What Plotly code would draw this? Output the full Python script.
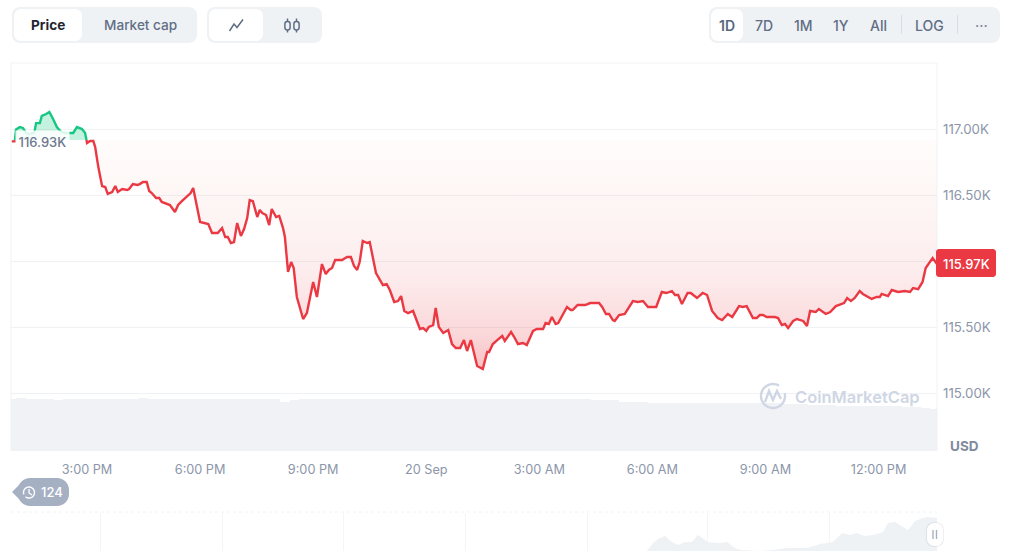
import math
import numpy as np
import plotly.graph_objects as go

W, H = 1024, 551
BASE = 116.92

minutes = [
 60,65,67,73,78,83,89,96,99,105,108,115,120,126,132,139,145,151,158,164,172,177,180,185,190,
 193,198,204,209,213,220,225,229,236,244,247,253,260,264,269,275,279,283,290,295,299,312,320,325,331,339,345,349,
 360,373,379,388,395,400,404,409,414,419,425,430,435,439,444,451,455,459,465,470,474,481,486,492,495,
 500,505,509,514,524,530,540,546,554,560,565,570,575,586,594,600,605,610,614,619,626,630,
 640,643,651,657,662,669,675,680,685,691,699,710,715,720,724,731,735,740,747,755,761,767,774,780,785,791,801,810,817,820,826,833,841,845,855,860,866,874,880,
 890,896,906,910,915,920,926,930,944,950,953,961,973,981,995,1000,1006,1011,1017,1020,1027,1036,1049,1057,1065,1073,
 1086,1095,1102,1111,1116,1121,1127,1136,1141,1151,1160,1167,1175,1184,1191,1200,1207,1218,1224,1230,1240,1246,1251,1256,1262,1275,1280,1286,1291,1296,
 1304,1310,1320,1326,1331,1340,1345,1356,1363,1372,1385,1390,1396,1402,1410,1415,1429,1437,1442,1445,1455,1461,1471,1482,1490,1495,1503,1510,1515,1526,1533,
]
price_k = [
 116.91,116.91,117.0,117.019,117.012,116.974,116.966,116.974,117.049,117.049,117.103,117.118,117.133,117.08,117.019,116.981,116.974,116.974,116.974,117.019,117.004,116.974,116.898,116.913,116.913,
 116.867,116.715,116.571,116.564,116.511,116.526,116.571,116.526,116.548,116.541,116.548,116.586,116.579,116.586,116.602,116.602,116.533,116.518,116.48,116.48,116.45,116.427,116.374,116.427,116.457,116.488,116.518,116.556,
 116.298,116.283,116.215,116.215,116.252,116.184,116.184,116.139,116.146,116.29,116.192,116.245,116.328,116.465,116.457,116.336,116.389,116.366,116.351,116.275,116.397,116.336,116.344,116.252,116.184,
 115.919,115.994,115.949,115.729,115.562,115.607,115.843,115.729,115.979,115.903,115.934,115.949,116.01,116.01,116.032,116.032,115.964,115.934,115.994,116.154,116.139,116.146,
 115.911,115.888,115.82,115.827,115.782,115.691,115.698,115.736,115.623,115.607,115.623,115.486,115.493,115.471,115.501,115.516,115.645,115.501,115.456,115.478,115.372,115.342,115.342,115.402,115.319,115.402,115.205,115.182,115.311,115.311,115.372,115.402,115.433,115.395,115.463,115.425,115.372,115.38,115.364,
 115.471,115.486,115.486,115.531,115.524,115.577,115.524,115.531,115.653,115.63,115.63,115.668,115.668,115.683,115.683,115.653,115.6,115.6,115.554,115.547,115.592,115.6,115.698,115.691,115.698,115.653,
 115.653,115.767,115.759,115.774,115.744,115.744,115.676,115.759,115.759,115.721,115.759,115.744,115.623,115.569,115.554,115.6,115.577,115.66,115.653,115.66,115.569,115.569,115.592,115.592,115.577,115.577,115.569,115.516,115.524,115.493,
 115.547,115.562,115.547,115.509,115.623,115.615,115.638,115.6,115.615,115.66,115.683,115.721,115.698,115.721,115.774,115.752,115.714,115.729,115.729,115.752,115.736,115.782,115.767,115.774,115.767,115.797,115.789,115.843,115.949,116.025,115.979,
]
assert len(minutes) == len(price_k), (len(minutes), len(price_k))

volume_minutes = [60 + 15 * i for i in range(99)]
volume_b = [
 49.8,49.9,49.6,49.8,49.7,48.7,49.3,49.4,49.2,49.5,
 49.7,49.8,49.8,49.6,49.9,49.7,49.8,49.6,49.7,49.8,
 49.6,49.5,49.4,49.6,49.7,49.8,49.6,49.5,49.4,46.8,
 48.0,49.0,49.4,49.5,49.7,49.6,49.4,49.5,49.3,49.5,
 49.6,49.8,49.5,49.3,49.5,49.6,49.4,49.3,49.5,49.4,
 49.2,49.3,49.4,49.2,49.3,49.1,49.3,49.2,49.0,49.3,
 49.4,49.1,48.9,48.6,48.0,47.0,46.6,46.2,46.0,45.8,
 46.0,45.8,45.7,45.8,45.6,45.5,45.7,45.6,45.4,45.5,
 45.3,45.2,44.9,44.6,44.3,44.0,43.6,43.3,43.0,42.9,
 42.8,42.7,42.6,42.5,42.3,42.0,41.6,40.9,39.5,
]
mini_minutes = [1071,1081,1089,1100,1111,1121,1132,1143,1152,1160,1168,1187,1199,1211,1222,1251,1272,1294,1326,1347,1367,1382,1394,1405,1418,1431,1447,1455,1466,1479,1487,1498,1510,1518,1530,1533]
mini_level = [0,8,12,15,9,6,9,9,16,13,9,8,9,3,1,0,1,3,3,7,9,18,16,18,15,16,19,28,29,24,21,30,33,34,33,33]
mini_grid = [201,395,589,782,976,1168,1362]

x_ticks = [180,360,540,720,900,1080,1260,1440]
x_labels = ["3:00 PM","6:00 PM","9:00 PM","20 Sep","3:00 AM","6:00 AM","9:00 AM","12:00 PM"]
y_ticks = [115.0,115.5,116.0,116.5,117.0]
y_labels = ["115.00K","115.50K","","116.50K","117.00K"]  # 116.00K sits behind the current-price badge

# insert crossings so the two colours meet on the baseline
tx, ty = [], []
for i, (a, b) in enumerate(zip(minutes, price_k)):
    if i and (price_k[i-1] - BASE) * (b - BASE) < 0:
        f = (BASE - price_k[i-1]) / (b - price_k[i-1])
        tx.append(minutes[i-1] + f * (a - minutes[i-1])); ty.append(BASE)
    tx.append(a); ty.append(b)
tx, ty = np.array(tx), np.array(ty)
above = np.where(ty >= BASE, ty, np.nan)
below = np.where(ty <= BASE, ty, np.nan)

RED, GREEN = "#ea3943", "#16c784"
GRID = "#eff2f5"
fig = go.Figure()

fig.add_bar(x=volume_minutes, y=volume_b, yaxis="y2", marker=dict(color="#f0f2f5", line=dict(width=0)), hoverinfo="skip")

fig.add_scatter(x=tx, y=np.full(tx.shape, BASE), mode="lines", line=dict(width=0), hoverinfo="skip")
fig.add_scatter(x=tx, y=np.minimum(ty, BASE), mode="lines", line=dict(width=0), fill="tonexty", hoverinfo="skip",
                fillgradient=dict(type="vertical", start=BASE, stop=115.18,
                                  colorscale=[[0,"rgba(240,150,110,0.03)"],[0.3,"rgba(234,90,80,0.06)"],[0.6,"rgba(234,57,67,0.10)"],[0.85,"rgba(234,57,67,0.20)"],[1,"rgba(234,57,67,0.32)"]]))
fig.add_scatter(x=tx, y=np.full(tx.shape, BASE), mode="lines", line=dict(width=0), hoverinfo="skip")
fig.add_scatter(x=tx, y=np.maximum(ty, BASE), mode="lines", line=dict(width=0), fill="tonexty",
                fillcolor="rgba(22,199,132,0.25)", hoverinfo="skip")
fig.add_scatter(x=tx, y=below, mode="lines", line=dict(color=RED, width=2.4), hoverinfo="skip")
fig.add_scatter(x=tx, y=above, mode="lines", line=dict(color=GREEN, width=2.4), hoverinfo="skip")

fig.add_scatter(x=mini_minutes, y=mini_level, xaxis="x2", yaxis="y3", mode="lines", line=dict(width=0),
                fill="tozeroy", fillcolor="#eff2f5", hoverinfo="skip")

def px(x): return x / W
def py(y): return 1 - y / H
def P(pts, close=False):
    s = "M" + " L".join(f"{px(x):.5f},{py(y):.5f}" for x, y in pts)
    return s + (" Z" if close else "")
def rr(x0, y0, x1, y1, r):
    k = r * 0.45
    def c(a, b, d): return f"C{px(a[0]):.5f},{py(a[1]):.5f} {px(b[0]):.5f},{py(b[1]):.5f} {px(d[0]):.5f},{py(d[1]):.5f}"
    def L(a): return f"L{px(a[0]):.5f},{py(a[1]):.5f}"
    return (f"M{px(x0+r):.5f},{py(y0):.5f} " + L((x1-r,y0)) + " " + c((x1-k,y0),(x1,y0+k),(x1,y0+r)) + " " + L((x1,y1-r)) + " " +
            c((x1,y1-k),(x1-k,y1),(x1-r,y1)) + " " + L((x0+r,y1)) + " " + c((x0+k,y1),(x0,y1-k),(x0,y1-r)) + " " + L((x0,y0+r)) + " " +
            c((x0,y0+k),(x0+k,y0),(x0+r,y0)) + " Z")

shapes = []
def fillpath(path, color, line=None, lw=0):
    shapes.append(dict(type="path", xref="paper", yref="paper", path=path, fillcolor=color,
                       line=dict(color=line or "rgba(0,0,0,0)", width=lw), layer="above"))
def stroke(pts, color, lw=1.5):
    shapes.append(dict(type="path", xref="paper", yref="paper", path=P(pts), line=dict(color=color, width=lw), layer="above"))
def circle_pts(cx, cy, r, a0=0, a1=360, n=40):
    return [(cx + r*math.cos(math.radians(a0+(a1-a0)*i/n)), cy + r*math.sin(math.radians(a0+(a1-a0)*i/n))) for i in range(n+1)]

# plot frame
stroke([(11,451),(11,63),(937,63),(937,451)], "#eff2f5", 1)
shapes.append(dict(type="line", xref="paper", yref="paper", x0=px(11), x1=px(937), y0=py(512), y1=py(512),
                   line=dict(color="#eff2f5", width=1, dash="dot"), layer="above"))
# button groups
BG = "#eff2f5"
fillpath(rr(12,7,197,43,8), BG)
fillpath(rr(14,9,82,41,7), "#ffffff")
fillpath(rr(207,7,322,43,8), BG)
fillpath(rr(209,9,263,41,7), "#ffffff")
fillpath(rr(709,7,1000,43,8), BG)
fillpath(rr(711,9,743,41,7), "#ffffff")
for xx in (901.5, 957.5):
    stroke([(xx,15),(xx,34)], "#d8dee8", 1)
# line & candle icons
stroke([(229.5,31),(234,24),(237,27.5),(243,19.5)], "#616e85", 1.5)
for cx, cy in ((287.5,25.5),(296.5,25.5)):
    fillpath(rr(cx-2.6,cy-4,cx+2.6,cy+4.5,2.4), "rgba(0,0,0,0)", "#616e85", 1.5)
    stroke([(cx,cy-7),(cx,cy-4)], "#616e85", 1.5)
    stroke([(cx,cy+4.5),(cx,cy+7)], "#616e85", 1.5)
# current price badge
fillpath(rr(936,249,996,277,3), RED)
# history badge
fillpath(rr(18,478,69,506,12), "#a6b0c3")
fillpath(P([(12,492),(20,484),(20,500)], True), "#a6b0c3")
stroke(circle_pts(29,492.5,5.5,-200,130), "#ffffff", 1.4)
stroke([(29,489),(29,493),(32,495)], "#ffffff", 1.3)
# slider handle
fillpath(rr(926,522,944,547,8), "rgba(88,102,126,0.10)")
fillpath(rr(927,523,943,546,7.5), "#ffffff")
stroke([(933,530),(933,539)], "#a6b0c3", 1.4)
stroke([(936.5,530),(936.5,539)], "#a6b0c3", 1.4)
# watermark logo
LOGO = "#cfd6e4"
stroke(circle_pts(773,396,12,-15,300), LOGO, 2.4)
stroke([(765,402),(769,391),(773,400),(777,391),(781,399)], LOGO, 2.4)

def note(x, y, text, size=13, color="#616e85", anchor="center", weight=500, **kw):
    return dict(xref="paper", yref="paper", x=px(x), y=py(y), text=text, showarrow=False, xanchor=anchor, yanchor="middle",
                font=dict(family="Inter", size=size, color=color, weight=weight), **kw)

annotations = [
    note(48,25,"Price",13.6,"#222531",weight=700),
    note(140,25,"Market cap",13.6,"#616e85",weight=500),
    note(727,25,"1D",14,"#58667e",weight=600),
    note(764,25,"7D",14,"#616e85"),
    note(803,25,"1M",14,"#616e85"),
    note(841,25,"1Y",14,"#616e85"),
    note(878,25,"All",14,"#616e85"),
    note(929,25,"LOG",14,"#616e85"),
    note(981,25,"···",14,"#808a9d"),
    note(966,263.5,"115.97K",13,"#ffffff"),
    note(14.5,141,"116.93K",13,"#6b778c",anchor="left",bgcolor="rgba(255,255,255,0.85)",borderpad=2.5),
    note(964,446,"USD",13.5,"#808a9d",weight=700),
    note(51.5,492.5,"124",13,"#ffffff"),
    note(857,397,"CoinMarketCap",16.5,LOGO,weight=600),
]

fig.update_layout(
    width=W, height=H, margin=dict(l=0,r=0,t=0,b=0), paper_bgcolor="#ffffff", plot_bgcolor="#ffffff",
    showlegend=False, bargap=0, shapes=shapes, annotations=annotations,
    font=dict(family="Inter"),
    xaxis=dict(domain=[px(11),px(937)], range=[59,1533], anchor="y", tickmode="array", tickvals=x_ticks, ticktext=x_labels,
               showgrid=False, zeroline=False, showline=False, ticks="", ticklabelstandoff=9,
               tickfont=dict(family="Inter", size=12.7, color="#8c96aa")),
    yaxis=dict(domain=[py(451),py(63)], range=[114.56,117.505], side="right", anchor="x", tickmode="array", tickvals=y_ticks, ticktext=y_labels,
               showgrid=True, gridcolor=GRID, gridwidth=1, zeroline=False, showline=False, ticks="", ticklabelstandoff=5,
               tickfont=dict(family="Inter", size=13.3, color="#8c96aa")),
    yaxis2=dict(domain=[py(451),py(63)], range=[0,368.6], overlaying="y", anchor="x", visible=False),
    xaxis2=dict(domain=[px(11),px(937)], range=[59,1533], anchor="y3", tickmode="array", tickvals=mini_grid, showticklabels=False,
                showgrid=True, gridcolor="#f4f5f8", gridwidth=1, zeroline=False, ticks=""),
    yaxis3=dict(domain=[0,py(513)], range=[0,38], anchor="x2", visible=False),
)

fig.write_html("out.html", config=dict(displayModeBar=False), post_script="document.body.style.margin='0';document.body.style.overflow='hidden';")
